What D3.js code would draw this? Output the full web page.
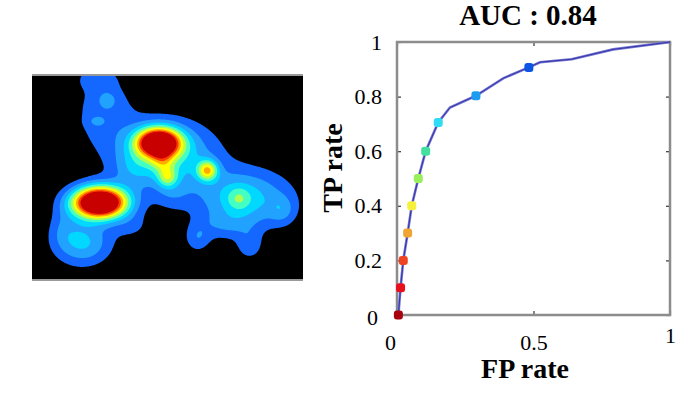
<!DOCTYPE html>
<html lang="en">
<head>
<meta charset="UTF-8">
<title>ROC curve with density map</title>
<style>
body { margin: 0; background: #fff; }
svg { display: block; }
text { font-family: "Liberation Serif", "Times New Roman", serif; fill: #000; }
</style>
<script src="https://cdn.jsdelivr.net/npm/d3@7"></script>
</head>
<body>
<svg width="692" height="405"></svg>
<script>
// ROC curve (FP rate, TP rate)
var rocFp = [0.005, 0.013, 0.023, 0.039, 0.054, 0.078, 0.105, 0.151, 0.194, 0.289, 0.389, 0.483, 0.524, 0.64, 0.792, 0.988, 1];
var rocTp = [0, 0.1, 0.2, 0.3, 0.4, 0.5, 0.6, 0.705, 0.76, 0.803, 0.867, 0.907, 0.926, 0.937, 0.973, 0.998, 1];
// threshold markers
var markFp = [0.005, 0.013, 0.023, 0.039, 0.054, 0.078, 0.105, 0.151, 0.289, 0.483];
var markTp = [0, 0.1, 0.2, 0.3, 0.4, 0.5, 0.6, 0.705, 0.803, 0.907];
var markColor = ["#a8000c", "#e8101c", "#ee4424", "#f0a434", "#f4f03c", "#98f05c", "#44e0a0", "#30dcf4", "#1c9cf0", "#0c54e4"];
var yTicks = [0, 0.2, 0.4, 0.6, 0.8, 1];
var xTicks = [0, 0.5, 1];
var aucText = "AUC : 0.84";

// density map sources (image units, 271 x 203)
var blobX  = [67, 126, 175, 135, 206, 75, 63, 130, 135, 212, 50, 72, 165, 217, 250, 193, 100, 30, 63, 100, 140];
var blobY  = [126, 66, 94, 101, 122, 23, 45, 85, 80, 122, 166, 35, 162, 169, 134, 149, 92, 150, 2, 150, 120];
var blobSx = [19, 15, 7, 7, 8, 7, 6, 8, 34, 32, 20, 22, 9, 9, 9, 20, 13, 10, 14, 14, 12];
var blobSy = [11, 10, 7, 7, 8, 6, 4, 8, 24, 20, 16, 28, 10, 10, 10, 10, 13, 14, 8, 10, 10];
var blobA  = [1.45, 1.2, 0.53, 0.32, 0.17, 0.1, 0.08, 0.2, 0.38, 0.35, 0.32, 0.16, 0.16, 0.16, 0.14, 0.12, 0.12, 0.1, 0.1, 0.1, 0.08];
var levels = [0.1, 0.2, 0.3, 0.4, 0.5, 0.6, 0.7, 0.8, 0.9];
var levelColor = ["#1468ff", "#22a2ff", "#00d8ff", "#44ffc4", "#b0ff50", "#ffff00", "#ffaa00", "#ff3c00", "#c80000"];

var svg = d3.select("svg");

// ---- density map ----
var imgW = 271, imgH = 203;
var img = svg.append("g").attr("transform", "translate(32,76)");
svg.append("clipPath").attr("id", "imgclip")
  .append("rect").attr("width", imgW).attr("height", imgH);
img.attr("clip-path", "url(#imgclip)");
img.append("rect").attr("width", imgW).attr("height", imgH).attr("fill", "#000");

var values = new Float64Array(imgW * imgH);
for (var j = 0; j < imgH; j++) {
  for (var i = 0; i < imgW; i++) {
    var v = 0;
    for (var b = 0; b < blobX.length; b++) {
      var dx = (i - blobX[b]) / blobSx[b], dy = (j - blobY[b]) / blobSy[b];
      v += blobA[b] * Math.exp(-0.5 * (dx * dx + dy * dy));
    }
    values[j * imgW + i] = v;
  }
}
var contours = d3.contours().size([imgW, imgH]).thresholds(levels)(values);
var colorOf = d3.scaleOrdinal().domain(levels).range(levelColor);
img.selectAll("path.lvl")
  .data(contours)
  .join("path")
  .attr("class", "lvl")
  .attr("d", d3.geoPath())
  .attr("fill", function(d) { return colorOf(d.value); });

svg.append("line").attr("x1", 32).attr("x2", 303).attr("y1", 75).attr("y2", 75)
  .attr("stroke", "#999").attr("stroke-width", 2);
svg.append("line").attr("x1", 32).attr("x2", 303).attr("y1", 280).attr("y2", 280)
  .attr("stroke", "#999").attr("stroke-width", 2);

// ---- ROC plot ----
var x = d3.scaleLinear().domain([0, 1]).range([397, 670]);
var y = d3.scaleLinear().domain([0, 1]).range([315, 42]);
var fmt = d3.format("~g");

var gl = svg.append("g").attr("transform", "translate(397,0)")
  .call(d3.axisLeft(y).tickValues(yTicks).tickSize(-4).tickPadding(15).tickFormat(fmt));
var gr = svg.append("g").attr("transform", "translate(670,0)")
  .call(d3.axisRight(y).tickValues(yTicks).tickSize(-4).tickFormat(""));
var gb = svg.append("g").attr("transform", "translate(0,315)")
  .call(d3.axisBottom(x).tickValues(xTicks).tickSize(-4).tickPadding(19).tickFormat(fmt));
var gt = svg.append("g").attr("transform", "translate(0,42)")
  .call(d3.axisTop(x).tickValues(xTicks).tickSize(-4).tickFormat(""));

[gl, gr, gb, gt].forEach(function(g) {
  g.select(".domain").remove();
  g.selectAll("line").attr("stroke", "#333").attr("stroke-width", 1.2);
  g.selectAll("text").attr("font-size", 22).attr("font-family", null);
});
// small label quirks of the original
gb.selectAll("text").filter(function(d) { return d === 0; }).attr("dx", -7);
gb.selectAll("text").filter(function(d) { return d === 1; }).attr("dy", "0.4em");
gl.selectAll("text").filter(function(d) { return d === 0; }).attr("dx", -4).attr("dy", "0.45em");

svg.append("rect")
  .attr("x", x(0)).attr("y", y(1))
  .attr("width", x(1) - x(0)).attr("height", y(0) - y(1))
  .attr("fill", "none").attr("stroke", "#8c8c8c").attr("stroke-width", 2.5);

var line = d3.line().x(function(d) { return x(d[0]); }).y(function(d) { return y(d[1]); });
var rocPts = d3.zip(rocFp, rocTp);
svg.append("path").datum(rocPts).attr("d", line)
  .attr("fill", "none").attr("stroke", "#7474d4").attr("stroke-width", 2.6);
svg.append("path").datum(rocPts).attr("d", line)
  .attr("fill", "none").attr("stroke", "#2c2ca0").attr("stroke-width", 0.9);

svg.selectAll("rect.mark")
  .data(d3.zip(markFp, markTp, markColor))
  .join("rect")
  .attr("class", "mark")
  .attr("x", function(d) { return x(d[0]) - 4.5; })
  .attr("y", function(d) { return y(d[1]) - 4.5; })
  .attr("width", 9).attr("height", 9).attr("rx", 3)
  .attr("fill", function(d) { return d[2]; });

svg.append("text").attr("x", 528).attr("y", 25).attr("text-anchor", "middle")
  .attr("font-size", 29).attr("font-weight", "bold").text(aucText);
svg.append("text").attr("x", 525).attr("y", 378).attr("text-anchor", "middle")
  .attr("font-size", 28).attr("font-weight", "bold").text("FP rate");
svg.append("text").attr("transform", "translate(342,168) rotate(-90)").attr("text-anchor", "middle")
  .attr("font-size", 28).attr("font-weight", "bold").text("TP rate");
</script>
</body>
</html>
